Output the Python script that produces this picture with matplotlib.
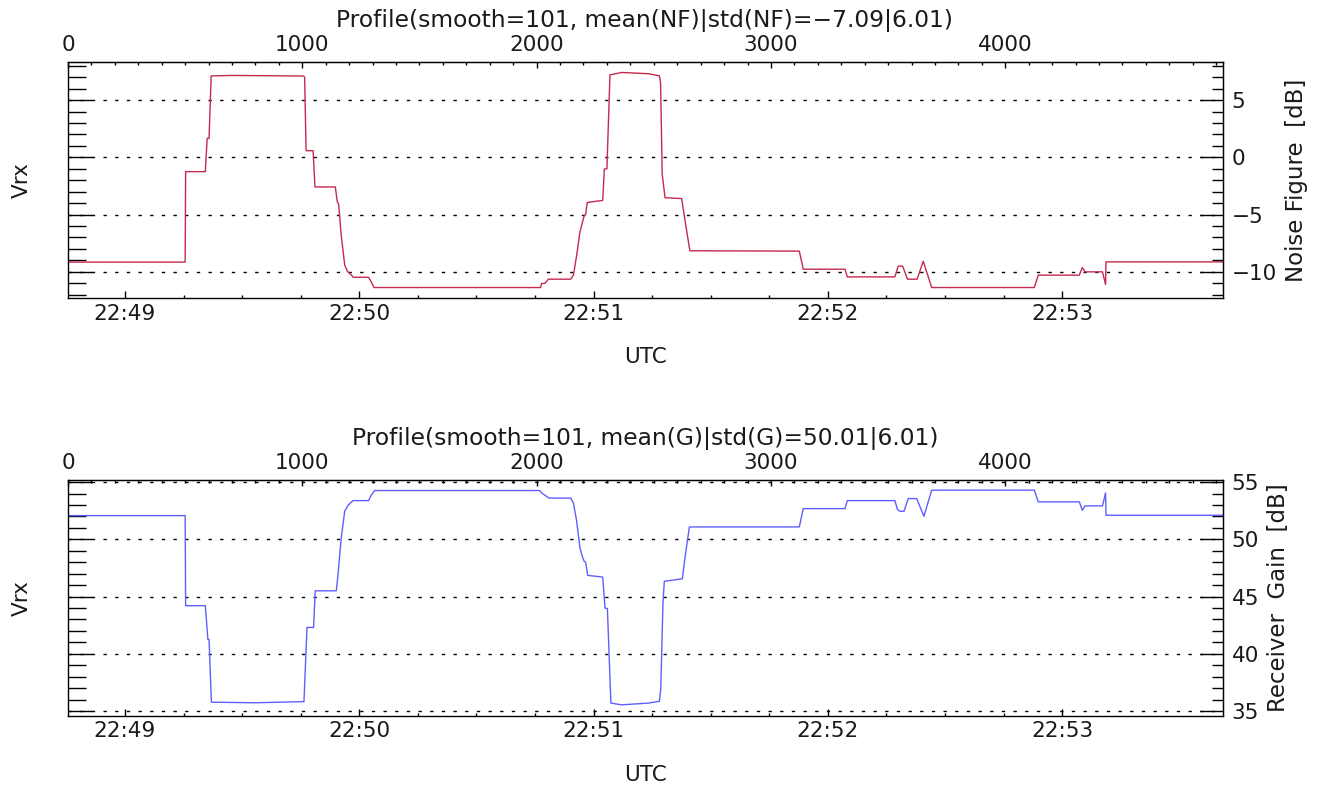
import matplotlib.pyplot as plt
from matplotlib.ticker import FixedLocator, MultipleLocator, NullFormatter

# sample index -> UTC: 0.06 s per sample, first sample at 22:48:45.42
t_start = 22 * 3600 + 48 * 60 + 45.42
dt = 0.06
n_samples = 4928

# noise figure profile [dB], breakpoints (sample index, value)
nf_idx = [0, 500, 502, 586, 594, 602, 611, 700, 1005, 1010, 1016, 1046, 1054,
          1141, 1149, 1155, 1166, 1181, 1192, 1210, 1217, 1283, 1294, 1306,
          2017, 2021, 2036, 2050, 2145, 2157, 2171, 2185, 2196, 2203, 2209,
          2216, 2282, 2289, 2300, 2313, 2363, 2477, 2524, 2529, 2536, 2548,
          2619, 2633, 2654, 3121, 3138, 3316, 3326, 3529, 3543, 3562, 3583,
          3624, 3650, 3686, 4124, 4141, 4316, 4329, 4340, 4415, 4428, 4430,
          4928]
nf_db = [-9.15, -9.15, -1.25, -1.25, 1.66, 1.66, 7.11, 7.15, 7.10, 7.0, 0.58,
         0.58, -2.59, -2.59, -3.88, -4.1, -6.79, -9.42, -9.94, -10.29, -10.47,
         -10.47, -10.87, -11.37, -11.37, -11.02, -11.0, -10.64, -10.64,
         -10.29, -8.54, -6.5, -5.63, -5.1, -5.0, -3.94, -3.76, -1.02, -1.0,
         7.2, 7.41, 7.3, 7.12, 6.5, -1.49, -3.53, -3.6, -5.48, -8.16, -8.19,
         -9.77, -9.77, -10.44, -10.44, -9.5, -9.5, -10.64, -10.64, -9.07,
         -11.37, -11.37, -10.29, -10.29, -9.62, -10.0, -10.0, -11.1, -9.13,
         -9.13]

# receiver gain profile [dB]
g_idx = [0, 500, 502, 586, 597, 602, 612, 800, 1007, 1020, 1048, 1055, 1145,
         1152, 1166, 1181, 1195, 1216, 1283, 1294, 1309, 2014, 2021, 2053,
         2145, 2157, 2171, 2185, 2195, 2203, 2209, 2218, 2282, 2292, 2302,
         2317, 2363, 2477, 2524, 2530, 2539, 2545, 2622, 2633, 2652, 3121,
         3138, 3316, 3326, 3529, 3540, 3551, 3568, 3586, 3622, 3653, 3686,
         4124, 4141, 4316, 4329, 4340, 4415, 4428, 4430, 4928]
g_db = [52.07, 52.07, 44.2, 44.2, 41.25, 41.25, 35.77, 35.72, 35.82, 42.3,
        42.3, 45.5, 45.5, 46.85, 50.1, 52.45, 52.97, 53.38, 53.38, 53.85,
        54.26, 54.26, 54.05, 53.6, 53.6, 53.18, 51.57, 49.24, 48.5, 48.08,
        48.0, 46.85, 46.7, 43.99, 43.95, 35.69, 35.54, 35.69, 35.85, 37.0,
        44.34, 46.33, 46.55, 48.37, 51.08, 51.08, 52.68, 52.68, 53.38, 53.38,
        52.6, 52.45, 52.45, 53.56, 53.56, 52.01, 54.29, 54.29, 53.27, 53.27,
        52.54, 52.92, 52.92, 54.05, 52.1, 52.1]

time_minutes = [49, 50, 51, 52, 53]
index_ticks = [0, 1000, 2000, 3000, 4000]

plt.rcParams["font.family"] = ["DejaVu Sans"]
plt.rcParams["font.size"] = 15.5
plt.rcParams["text.color"] = "#1a1a1a"
plt.rcParams["xtick.labelcolor"] = "#1a1a1a"
plt.rcParams["ytick.labelcolor"] = "#1a1a1a"

W, H = 1329, 793
fig = plt.figure(figsize=(W / 100, H / 100), dpi=100)


def box(x0, y0, x1, y1):
    return [x0 / W, 1 - y1 / H, (x1 - x0) / W, (y1 - y0) / H]


def panel(rect, idx, vals, color, ylim, yticks, title, rlabel, ymid, title_y, utc_y, rlabel_x):
    ax = fig.add_axes(box(*rect))
    ax.plot(idx, vals, color=color, lw=1.0)
    ax.set_xlim(0, n_samples)
    ax.set_ylim(*ylim)
    for s in ax.spines.values():
        s.set_linewidth(1.0)

    # bottom: UTC
    major = [(22 * 3600 + m * 60 - t_start) / dt for m in time_minutes]
    minor = [(22 * 3600 + 48 * 60 + s - t_start) / dt for s in range(60, 300, 15)]
    ax.xaxis.set_major_locator(FixedLocator(major))
    ax.xaxis.set_minor_locator(FixedLocator(minor))
    ax.set_xticklabels(["22:%02d" % m for m in time_minutes])
    ax.tick_params(axis="x", which="major", direction="in", length=5, width=1, pad=4)
    ax.tick_params(axis="x", which="minor", direction="in", length=2.5, width=1)

    # left: Vrx, ticks only
    lo, hi = int(round(ylim[0] + 0.5)), int(ylim[1])
    ax.yaxis.set_major_locator(FixedLocator(yticks))
    ax.yaxis.set_minor_locator(FixedLocator(list(range(lo, hi + 1))))
    ax.yaxis.set_major_formatter(NullFormatter())
    ax.tick_params(axis="y", which="major", direction="in", length=17, width=1)
    ax.tick_params(axis="y", which="minor", direction="in", length=12.6, width=1)
    ax.grid(axis="y", which="major", color="black", lw=1.0, linestyle=(0, (2.4, 6)))

    # top: sample index
    top = ax.secondary_xaxis("top")
    top.xaxis.set_major_locator(FixedLocator(index_ticks))
    top.xaxis.set_minor_locator(FixedLocator(list(range(100, 4901, 100))))
    top.tick_params(which="major", direction="in", length=4.5, width=1, pad=5)
    top.tick_params(which="minor", direction="in", length=2.5, width=1)

    # right: dB scale
    right = ax.secondary_yaxis("right")
    right.yaxis.set_major_locator(FixedLocator(yticks))
    right.yaxis.set_minor_locator(FixedLocator(list(range(lo, hi + 1))))
    right.tick_params(which="major", direction="in", length=16.5, width=1, pad=6.5)
    right.tick_params(which="minor", direction="in", length=8, width=1)

    fig.text(645 / W, 1 - title_y / H, title, ha="center", va="center", fontsize=16.8)
    fig.text(645 / W, 1 - utc_y / H, "UTC", ha="center", va="center")
    fig.text(22 / W, 1 - ymid / H, "Vrx", ha="center", va="center", rotation=90)
    fig.text(rlabel_x / W, 1 - ymid / H, rlabel, ha="center", va="center",
             rotation=90, fontsize=16.5)
    return ax


panel((68, 61.7, 1222.7, 298.3), nf_idx, nf_db, "#c42a4e", (-12.31, 8.35),
      [-10, -5, 0, 5],
      "Profile(smooth=101, mean(NF)|std(NF)=\u22127.09|6.01)",
      "Noise Figure  [dB]", 180, 20, 357, 1297)
panel((68, 480, 1222.7, 715.7), g_idx, g_db, "#5f5fff", (34.59, 55.18),
      [35, 40, 45, 50, 55],
      "Profile(smooth=101, mean(G)|std(G)=50.01|6.01)",
      "Receiver  Gain  [dB]", 598, 438, 775, 1278)

fig.savefig("out.png", dpi=100)
